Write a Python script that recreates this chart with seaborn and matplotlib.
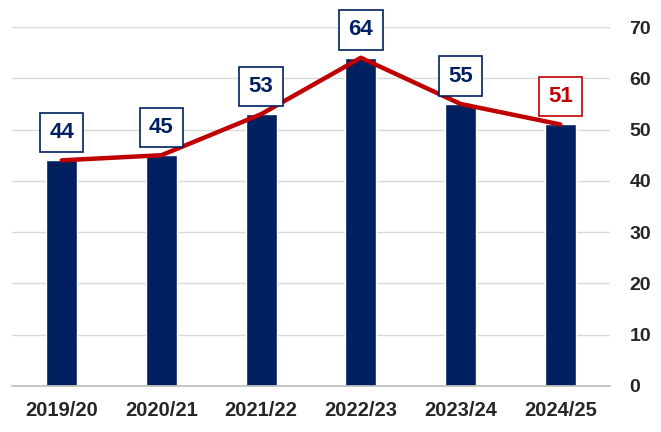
import matplotlib
matplotlib.use("Agg")
import matplotlib.pyplot as plt
import seaborn as sns
import pandas as pd
from matplotlib.ticker import MultipleLocator, FixedLocator

# Данные
seasons = ["2019/20", "2020/21", "2021/22", "2022/23", "2023/24", "2024/25"]
values = [44, 45, 53, 64, 55, 51]

navy = "#002060"
red = "#C00000"

sns.set_theme(style="white")
plt.rcParams["font.family"] = ["Liberation Sans", "DejaVu Sans"]

df = pd.DataFrame({"season": seasons, "value": values})
df["pos"] = range(len(df))

fig = plt.figure(figsize=(6.61, 4.32), dpi=100)
ax = fig.add_axes([0.018, 0.1065, 0.905, 0.831])

# Столбцы
ax.bar(df["pos"], df["value"], width=0.31, color=navy, zorder=2)
# Линия
sns.lineplot(data=df, x="pos", y="value", color=red, linewidth=3.2, ax=ax, zorder=3)

# Подписи в рамках
for i, (p, v) in enumerate(zip(df["pos"], df["value"])):
    c = red if i == len(df) - 1 else navy
    ax.annotate(str(v), (p, v), xytext=(0, 20), textcoords="offset points",
                ha="center", va="center", fontsize=16, fontweight="bold", color=c,
                bbox=dict(boxstyle="square,pad=0.42", fc="white", ec=c, lw=1.2), zorder=5)

ax.set_xlim(-0.5, 5.5)
ax.set_ylim(0, 70)
ax.yaxis.set_major_locator(MultipleLocator(10))
ax.yaxis.tick_right()
ax.grid(axis="y", color="#d9d9d9", linewidth=1, zorder=0)
ax.set_axisbelow(True)

ax.set_xticks(df["pos"])
ax.set_xticklabels(seasons, fontsize=14.5, fontweight="bold", color="#262626")
ax.xaxis.set_minor_locator(FixedLocator([x - 0.5 for x in range(len(df) + 1)]))
ax.tick_params(axis="x", which="major", length=0, pad=11)
ax.tick_params(axis="x", which="minor", length=6, color="#bfbfbf", width=1)
ax.tick_params(axis="y", length=0, labelsize=14, pad=14, labelcolor="#262626")
for t in ax.get_yticklabels():
    t.set_fontweight("bold")

for s in ["top", "left", "right"]:
    ax.spines[s].set_visible(False)
ax.spines["bottom"].set_color("#bfbfbf")
ax.set_xlabel("")
ax.set_ylabel("")

fig.savefig("out.png", dpi=100)
